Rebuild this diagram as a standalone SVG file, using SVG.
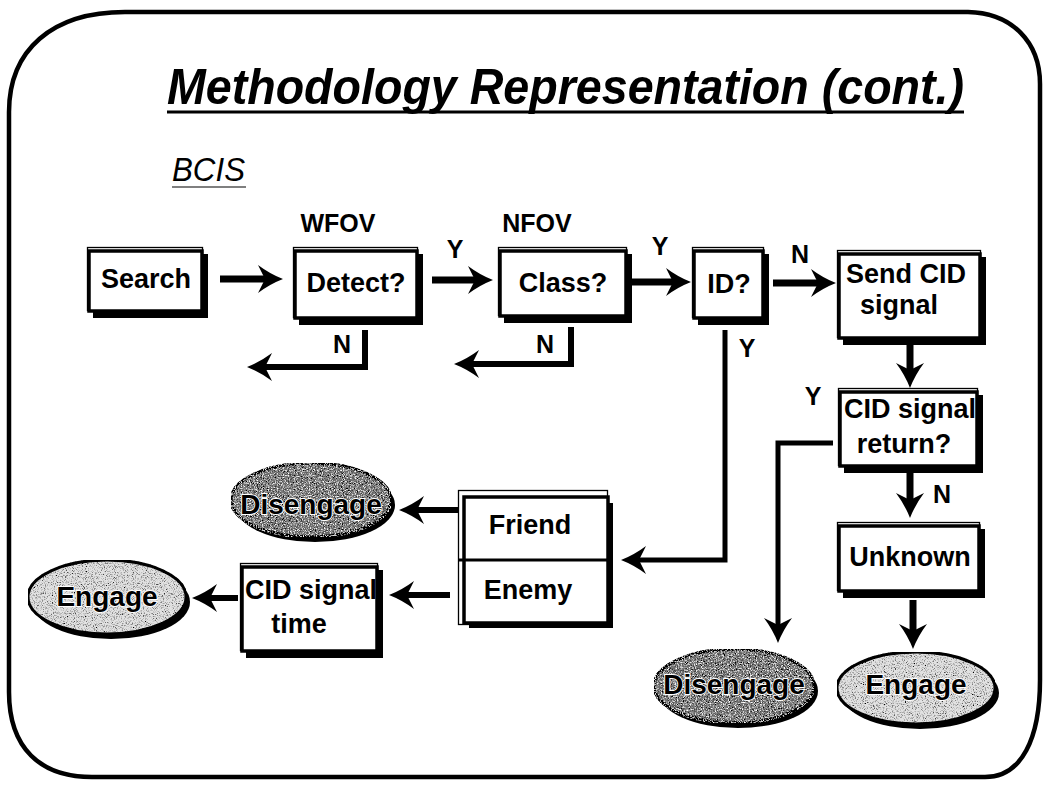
<svg xmlns="http://www.w3.org/2000/svg" width="1044" height="790" viewBox="0 0 1044 790">
  <style>
    text { font-family: "Liberation Sans", Arial, sans-serif; fill: #000; }
    .lbl { font-size: 27px; font-weight: bold; text-anchor: middle; }
    .tag { font-size: 25px; font-weight: bold; text-anchor: middle; }
    .oval-txt { font-size: 28px; font-weight: bold; text-anchor: middle; stroke: #fff; stroke-width: 1.8; paint-order: stroke; }
    .thin { fill: none; stroke: #000; stroke-width: 1.3; }
    .shadow { fill: #000; }
    .main { fill: #fff; stroke: #000; stroke-width: 3.5; }
    .oval-shadow { fill: #000; }
    .engage { fill: #e2e2e2; stroke: #000; stroke-width: 3; filter: url(#grain); }
    .disengage { fill: #7a7a7a; stroke: #000; stroke-width: 3; filter: url(#grain-dark); }
    .wire { fill: none; stroke: #000; stroke-linejoin: miter; stroke-linecap: butt; }
    .w7 { stroke-width: 7; marker-end: url(#head); }
    .w6 { stroke-width: 6; marker-end: url(#head); }
    .w5 { stroke-width: 5; marker-end: url(#head); }
  </style>
  <defs>
    <marker id="head" markerUnits="userSpaceOnUse" markerWidth="28" markerHeight="32" viewBox="-1 -15 28 30" refX="7" refY="0" orient="auto">
      <path d="M25 0 Q12 -5 0 -14 L7 0 L0 14 Q12 5 25 0 Z" fill="#000"/>
    </marker>
    <!-- speckled print texture for the light ovals -->
    <filter id="grain" x="0" y="0" width="1" height="1">
      <feTurbulence type="fractalNoise" baseFrequency="0.9" numOctaves="2" seed="7" result="noise"/>
      <feColorMatrix in="noise" type="matrix" values="0 0 0 0 0  0 0 0 0 0  0 0 0 0 0  3.2 0 0 0 -1.55" result="dots"/>
      <feComposite in="dots" in2="SourceAlpha" operator="in" result="clip"/>
      <feMerge>
        <feMergeNode in="SourceGraphic"/>
        <feMergeNode in="clip"/>
      </feMerge>
    </filter>
    <!-- speckled texture with light and dark flecks for the dark ovals -->
    <filter id="grain-dark" x="0" y="0" width="1" height="1">
      <feTurbulence type="fractalNoise" baseFrequency="0.85" numOctaves="2" seed="11" result="noise"/>
      <feColorMatrix in="noise" type="matrix" values="0 0 0 0 0  0 0 0 0 0  0 0 0 0 0  3.4 0 0 0 -1.45" result="dark"/>
      <feColorMatrix in="noise" type="matrix" values="0 0 0 0 1  0 0 0 0 1  0 0 0 0 1  0 3.4 0 0 -1.7" result="light"/>
      <feComposite in="dark" in2="SourceAlpha" operator="in" result="darkIn"/>
      <feComposite in="light" in2="SourceAlpha" operator="in" result="lightIn"/>
      <feMerge>
        <feMergeNode in="SourceGraphic"/>
        <feMergeNode in="darkIn"/>
        <feMergeNode in="lightIn"/>
      </feMerge>
    </filter>
  </defs>

  <rect width="1044" height="790" fill="#fff"/>

  <!-- slide frame -->
  <path d="M125 12 H968 C1012 13 1040 42 1040 84 V680 C1040 738 1022 777 985 777 H92 C40 777 9 748 9 692 V112 C9 50 52 12 125 12 Z" fill="none" stroke="#000" stroke-width="4.5"/>

  <!-- headings -->
  <g id="title">
    <text x="167" y="104" font-size="50" font-weight="bold" font-style="italic" textLength="797" lengthAdjust="spacingAndGlyphs">Methodology Representation (cont.)</text>
    <line x1="167" y1="112" x2="964" y2="112" stroke="#000" stroke-width="3"/>
  </g>
  <g id="subtitle">
    <text x="172" y="181" font-size="33" font-style="italic" textLength="73" lengthAdjust="spacingAndGlyphs">BCIS</text>
    <line x1="172" y1="187" x2="246" y2="187" stroke="#000" stroke-width="1.2"/>
  </g>

  <!-- connectors -->
  <g id="connectors">
    <path class="wire w7" d="M220 279 H265"/>
    <path class="wire w7" d="M432 280 H475"/>
    <path class="wire w7" d="M632 282 H673"/>
    <path class="wire w7" d="M773 283 H818"/>
    <path class="wire w6" d="M365 330 V367 H265"/>
    <path class="wire w6" d="M571 327 V364 H472"/>
    <path class="wire w7" d="M910 345 V370"/>
    <path class="wire w7" d="M910 473 V500"/>
    <path class="wire w7" d="M913 600 V631"/>
    <path class="wire w5" d="M725 330 V560 H639"/>
    <path class="wire w5" d="M833 443 H778 V625"/>
    <path class="wire w6" d="M458 510 H417"/>
    <path class="wire w6" d="M450 595 H407"/>
    <path class="wire w6" d="M238 598 H210"/>
    <text class="tag" x="338" y="232">WFOV</text>
    <text class="tag" x="537" y="232">NFOV</text>
    <text class="tag" x="455" y="258">Y</text>
    <text class="tag" x="660" y="255">Y</text>
    <text class="tag" x="800" y="263">N</text>
    <text class="tag" x="342" y="353">N</text>
    <text class="tag" x="545" y="353">N</text>
    <text class="tag" x="747" y="357">Y</text>
    <text class="tag" x="813" y="405">Y</text>
    <text class="tag" x="942" y="503">N</text>
  </g>

  <!-- process boxes -->
  <g id="search">
    <rect class="thin" x="87.5" y="247.5" width="115" height="63"/>
    <rect class="shadow" x="93" y="254" width="115" height="64"/>
    <rect class="main" x="89" y="251" width="113" height="60"/>
    <text class="lbl" x="146" y="288">Search</text>
  </g>
  <g id="detect">
    <rect class="thin" x="293.5" y="247.5" width="124" height="70"/>
    <rect class="shadow" x="299" y="254" width="124" height="71"/>
    <rect class="main" x="295" y="251" width="122" height="67"/>
    <text class="lbl" x="356" y="292">Detect?</text>
  </g>
  <g id="class">
    <rect class="thin" x="498.5" y="247.5" width="128" height="68"/>
    <rect class="shadow" x="504" y="254" width="128" height="69"/>
    <rect class="main" x="500" y="251" width="126" height="65"/>
    <text class="lbl" x="563" y="292">Class?</text>
  </g>
  <g id="id">
    <rect class="thin" x="692.5" y="247.5" width="71" height="70"/>
    <rect class="shadow" x="698" y="254" width="71" height="71"/>
    <rect class="main" x="694" y="251" width="69" height="67"/>
    <text class="lbl" x="729" y="293">ID?</text>
  </g>
  <g id="send-cid">
    <rect class="thin" x="837.5" y="250.5" width="143" height="87"/>
    <rect class="shadow" x="843" y="257" width="143" height="88"/>
    <rect class="main" x="839" y="254" width="141" height="84"/>
    <text class="lbl" x="906" y="283">Send CID</text>
    <text class="lbl" x="899" y="314">signal</text>
  </g>
  <g id="cid-return">
    <rect class="thin" x="838.5" y="388.5" width="139" height="77"/>
    <rect class="shadow" x="844" y="395" width="139" height="78"/>
    <rect class="main" x="840" y="392" width="137" height="74"/>
    <text class="lbl" x="910" y="418">CID signal</text>
    <text class="lbl" x="904" y="453">return?</text>
  </g>
  <g id="unknown">
    <rect class="thin" x="837.5" y="522.5" width="142" height="68"/>
    <rect class="shadow" x="843" y="529" width="142" height="69"/>
    <rect class="main" x="839" y="526" width="140" height="65"/>
    <text class="lbl" x="910" y="566">Unknown</text>
  </g>
  <g id="cid-time">
    <rect class="thin" x="240.5" y="563.5" width="137" height="87"/>
    <rect class="shadow" x="246" y="570" width="137" height="88"/>
    <rect class="main" x="242" y="567" width="135" height="84"/>
    <text class="lbl" x="311" y="599">CID signal</text>
    <text class="lbl" x="299" y="633">time</text>
  </g>
  <g id="friend-enemy">
    <rect class="thin" x="458.5" y="490.5" width="149" height="134"/>
    <rect class="shadow" x="469" y="503" width="144" height="125"/>
    <rect class="main" x="464" y="497" width="144" height="126"/>
    <line x1="459" y1="560" x2="608" y2="560" stroke="#000" stroke-width="3"/>
    <text class="lbl" x="530" y="534">Friend</text>
    <text class="lbl" x="528" y="599">Enemy</text>
  </g>

  <!-- terminal ovals -->
  <g id="disengage-friend">
    <ellipse class="oval-shadow" cx="315" cy="505" rx="80" ry="37"/>
    <ellipse class="disengage" cx="311" cy="500" rx="80" ry="37"/>
    <text class="oval-txt" x="311" y="514">Disengage</text>
  </g>
  <g id="engage-enemy">
    <ellipse class="oval-shadow" cx="111" cy="602" rx="79" ry="37"/>
    <ellipse class="engage" cx="107" cy="597" rx="79" ry="37"/>
    <text class="oval-txt" x="107" y="606">Engage</text>
  </g>
  <g id="disengage-return">
    <ellipse class="oval-shadow" cx="738" cy="691" rx="80" ry="37"/>
    <ellipse class="disengage" cx="734" cy="686" rx="80" ry="37"/>
    <text class="oval-txt" x="734" y="694">Disengage</text>
  </g>
  <g id="engage-unknown">
    <ellipse class="oval-shadow" cx="920" cy="693" rx="79" ry="36"/>
    <ellipse class="engage" cx="916" cy="688" rx="79" ry="36"/>
    <text class="oval-txt" x="916" y="694">Engage</text>
  </g>
</svg>
